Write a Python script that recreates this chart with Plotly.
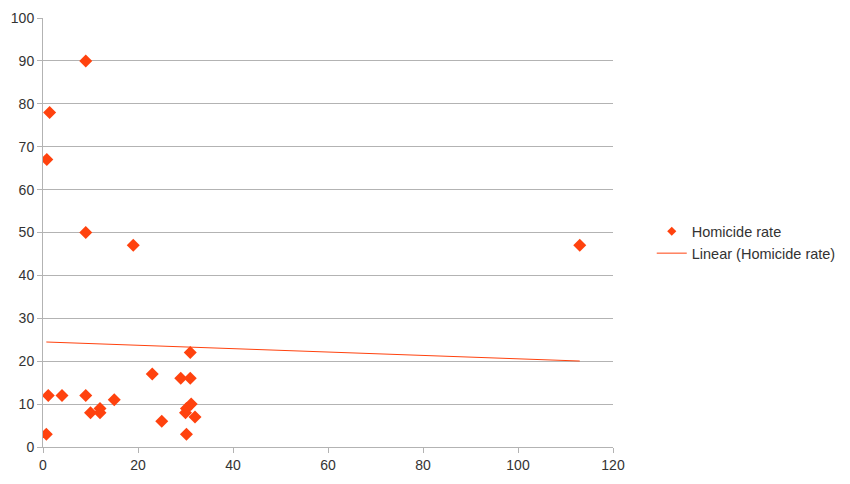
import numpy as np
import plotly.graph_objects as go

x_vals = [0.7, 1.1, 4, 9, 10, 12, 12, 15, 23, 25, 29, 31, 31, 31.2, 30.2, 30, 30.2, 32,
          9, 1.4, 0.8, 9, 19, 113]
y_vals = [3, 12, 12, 12, 8, 9, 8, 11, 17, 6, 16, 16, 22, 10, 9, 8, 3, 7,
          90, 78, 67, 50, 47, 47]
series_name = "Homicide rate"
trend_name = "Linear (Homicide rate)"
x_ticks = [0, 20, 40, 60, 80, 100, 120]
y_ticks = [0, 10, 20, 30, 40, 50, 60, 70, 80, 90, 100]

color = "#ff420e"
slope, intercept = np.polyfit(x_vals, y_vals, 1)
tx = np.array([min(x_vals), max(x_vals)])
ty = slope * tx + intercept

fig = go.Figure()
fig.add_trace(go.Scatter(x=x_vals, y=y_vals, mode="markers", name=series_name,
                         showlegend=False,
                         marker=dict(symbol="diamond", size=10, color=color)))
# legend entry with smaller marker, as in the reference legend
fig.add_trace(go.Scatter(x=[None], y=[None], mode="markers", name=series_name,
                         marker=dict(symbol="diamond", size=7, color=color)))
fig.add_trace(go.Scatter(x=tx, y=ty, mode="lines", name=trend_name,
                         line=dict(color=color, width=1)))

fig.update_layout(
    width=850, height=484,
    margin=dict(l=35, r=245, t=10, b=45, autoexpand=False),
    paper_bgcolor="white", plot_bgcolor="white",
    font=dict(family="Liberation Sans", size=14, color="#333333"),
    legend=dict(x=1.068, y=0.477, xanchor="left", yanchor="middle",
                font=dict(size=14.5, color="#333333"), tracegroupgap=0,
                bgcolor="rgba(0,0,0,0)"),
    showlegend=True,
)
fig.update_xaxes(range=[0, 120], tickvals=x_ticks, showgrid=False, zeroline=False,
                 showline=True, linecolor="#b3b3b3", linewidth=1, automargin=False,
                 ticks="outside", ticklen=5, tickcolor="#b3b3b3")
fig.update_yaxes(range=[0, 100], tickvals=y_ticks, showgrid=True, gridcolor="#b3b3b3",
                 gridwidth=1, zeroline=False, showline=True, linecolor="#b3b3b3",
                 linewidth=1, automargin=False,
                 ticks="outside", ticklen=5, tickcolor="#b3b3b3")

fig.write_html("out.html")
